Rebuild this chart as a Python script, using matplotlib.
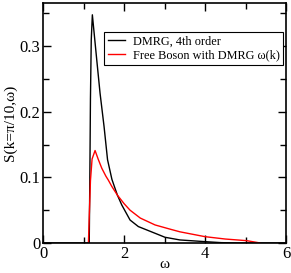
import matplotlib
matplotlib.use("Agg")
from matplotlib import pyplot as plt
from matplotlib.ticker import MultipleLocator

plt.rcParams.update({"font.family": ["Liberation Serif", "DejaVu Serif"], "font.size": 12})

# DMRG, 4th order
dmrg_w = [0.0, 0.8, 1.0, 1.14, 1.155, 1.17, 1.19, 1.217, 1.326, 1.407, 1.506, 1.592, 1.7,
          1.835, 1.943, 2.148, 2.353, 2.765, 3.01, 3.38, 4.0, 4.4, 4.8, 6.0]
dmrg_s = [0.0, 0.0, 0.0, 0.0, 0.10, 0.22, 0.31, 0.348, 0.279, 0.2285, 0.1776, 0.127, 0.097,
          0.073, 0.058, 0.035, 0.025, 0.0148, 0.0087, 0.0046, 0.002, 0.0005, 0.0, 0.0]

# Free Boson with DMRG w(k)
boson_w = [1.12, 1.14, 1.17, 1.21, 1.284, 1.36, 1.45, 1.55, 1.61, 1.7, 1.835, 2.0, 2.148,
           2.4, 2.765, 3.14, 3.38, 4.0, 4.5, 5.03, 5.36]
boson_s = [0.0, 0.04, 0.095, 0.128, 0.141, 0.128, 0.114, 0.102, 0.096, 0.086, 0.073, 0.060, 0.050,
           0.038, 0.0275, 0.021, 0.017, 0.0096, 0.006, 0.0035, 0.0]

fig = plt.figure(figsize=(2.91, 2.73), dpi=100)
ax = fig.add_axes([0.148, 0.11, 0.835, 0.879])

ax.plot(dmrg_w, dmrg_s, color="black", lw=1.0, label="DMRG, 4th order")
ax.plot(boson_w, boson_s, color="red", lw=1.0, label="Free Boson with DMRG \u03c9(k)")

ax.set_xlim(0, 6)
ax.set_ylim(0, 0.366)
ax.set_xticks([0, 2, 4, 6])
ax.set_xticklabels(["0", "2", "4", "6"])
ax.set_yticks([0, 0.1, 0.2, 0.3])
ax.set_yticklabels(["0", "0.1", "0.2", "0.3"])
ax.xaxis.set_minor_locator(MultipleLocator(1))
ax.yaxis.set_minor_locator(MultipleLocator(0.05))
ax.tick_params(which="both", direction="in", top=True, right=True, labelsize=12, width=1.0)
ax.tick_params(which="major", length=6, pad=2)
ax.tick_params(which="minor", length=4)
for s in ax.spines.values():
    s.set_linewidth(1.2)

ax.set_xlabel("\u03c9", fontsize=11, labelpad=-3)
ax.set_ylabel("S(k=\u03c0/10,\u03c9)", fontsize=11, labelpad=2)

leg = ax.legend(loc="upper right", bbox_to_anchor=(0.988, 0.879), fontsize=8.8,
                fancybox=False, framealpha=1, edgecolor="black", handlelength=1.4,
                handletextpad=0.6, borderpad=0.3, labelspacing=0.1, borderaxespad=0)
leg.get_frame().set_linewidth(0.8)

fig.savefig("out.png", dpi=100)
